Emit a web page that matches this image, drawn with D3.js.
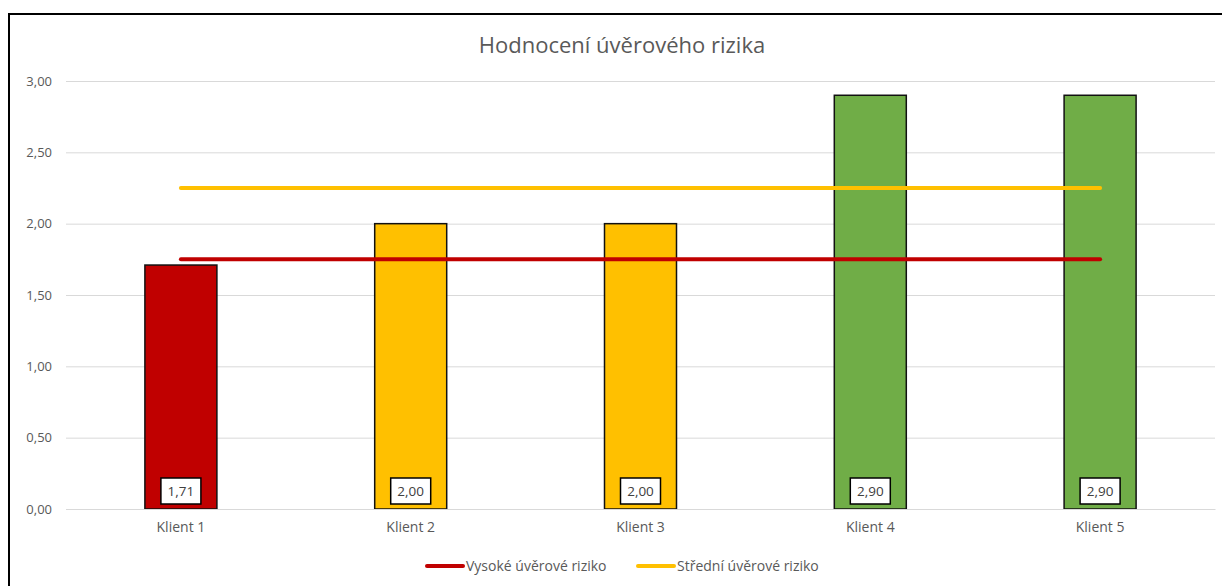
<!DOCTYPE html>
<html lang="cs">
    <head>
        <meta charset="utf-8">
        <title>Hodnocení úvěrového rizika</title>
        <script src="https://d3js.org/d3.v7.min.js"></script>
        <style type="text/css">
            body { margin: 0; background: white; }
            text { font-family: "Open Sans", "Noto Sans", sans-serif; }
            .tick text { fill: #595959; font-size: 13px; }
            .xax .tick text { font-size: 14px; }
            .title { fill: #595959; font-size: 22px; }
            .legend text { fill: #595959; font-size: 14px; }
            .vlabel { fill: #404040; font-size: 13.5px; }
        </style>
    </head>
    <body>
        <script type="text/javascript">
            // data
            const klienti = ["Klient 1", "Klient 2", "Klient 3", "Klient 4", "Klient 5"];
            const hodnoceni = [1.71, 2.00, 2.00, 2.90, 2.90];
            const barvy = ["#C00000", "#FFC000", "#FFC000", "#70AD47", "#70AD47"];
            const vysokeRiziko = [1.75, 1.75, 1.75, 1.75, 1.75];
            const stredniRiziko = [2.25, 2.25, 2.25, 2.25, 2.25];
            const yTicks = [0, 0.5, 1, 1.5, 2, 2.5, 3];
            const serie = [
                { name: "Vysoké úvěrové riziko", values: vysokeRiziko, color: "#C00000" },
                { name: "Střední úvěrové riziko", values: stredniRiziko, color: "#FFC000" }
            ];

            const w = 1222;
            const h = 586;
            const fmt = v => d3.format(".2f")(v).replace(".", ",");

            const svg = d3.select("body")
                .append("svg")
                .attr("width", w)
                .attr("height", h);

            // outer chart border
            svg.append("rect")
                .attr("x", 9).attr("y", 14)
                .attr("width", 1240).attr("height", 600)
                .attr("fill", "white")
                .attr("stroke", "black")
                .attr("stroke-width", 2);

            svg.append("text")
                .attr("class", "title")
                .attr("x", 622).attr("y", 53)
                .attr("text-anchor", "middle")
                .text("Hodnocení úvěrového rizika");

            const x = d3.scaleBand()
                .domain(klienti)
                .range([66, 1215]);

            const y = d3.scaleLinear()
                .domain([0, 3])
                .range([509, 81]);

            // gridlines + y labels
            const yAxis = svg.append("g")
                .attr("transform", "translate(66,0)")
                .call(d3.axisLeft(y).tickValues(yTicks).tickFormat(fmt)
                    .tickSize(-(1215 - 66)).tickPadding(14));
            yAxis.select(".domain").remove();
            yAxis.selectAll(".tick line").attr("stroke", "#D9D9D9").attr("stroke-width", 1);

            // bars
            const bw = 72;
            svg.selectAll("rect.bar")
                .data(hodnoceni)
                .enter()
                .append("rect")
                .attr("class", "bar")
                .attr("x", (d, i) => x(klienti[i]) + x.bandwidth() / 2 - bw / 2)
                .attr("y", d => y(d))
                .attr("width", bw)
                .attr("height", d => y(0) - y(d))
                .attr("fill", (d, i) => barvy[i])
                .attr("stroke", "#111")
                .attr("stroke-width", 1.5);

            // x axis labels
            const xAxis = svg.append("g")
                .attr("class", "xax")
                .attr("transform", "translate(0,509)")
                .call(d3.axisBottom(x).tickSize(0).tickPadding(13));
            xAxis.select(".domain").attr("stroke", "#D9D9D9");

            // lines
            const line = d3.line()
                .x((d, i) => x(klienti[i]) + x.bandwidth() / 2)
                .y(d => y(d));
            serie.forEach(s => {
                svg.append("path")
                    .attr("d", line(s.values))
                    .attr("fill", "none")
                    .attr("stroke", s.color)
                    .attr("stroke-width", 4)
                    .attr("stroke-linecap", "round");
            });

            // value labels
            const labels = svg.selectAll("g.vlab")
                .data(hodnoceni)
                .enter()
                .append("g")
                .attr("class", "vlab")
                .attr("transform", (d, i) => "translate(" + (x(klienti[i]) + x.bandwidth() / 2) + "," + (y(0) - 18) + ")");
            labels.append("rect")
                .attr("x", -20).attr("y", -13)
                .attr("width", 40).attr("height", 26)
                .attr("fill", "white")
                .attr("stroke", "black")
                .attr("stroke-width", 1.5);
            labels.append("text")
                .attr("class", "vlabel")
                .attr("text-anchor", "middle")
                .attr("dy", "0.35em")
                .text(d => fmt(d));

            // legend
            const legend = svg.append("g").attr("class", "legend");
            const lx = [427, 638];
            serie.forEach((s, i) => {
                legend.append("line")
                    .attr("x1", lx[i]).attr("x2", lx[i] + 36)
                    .attr("y1", 566).attr("y2", 566)
                    .attr("stroke", s.color)
                    .attr("stroke-width", 4)
                    .attr("stroke-linecap", "round");
                legend.append("text")
                    .attr("x", lx[i] + 39).attr("y", 566)
                    .attr("dy", "0.35em")
                    .text(s.name);
            });
        </script>
    </body>
</html>
